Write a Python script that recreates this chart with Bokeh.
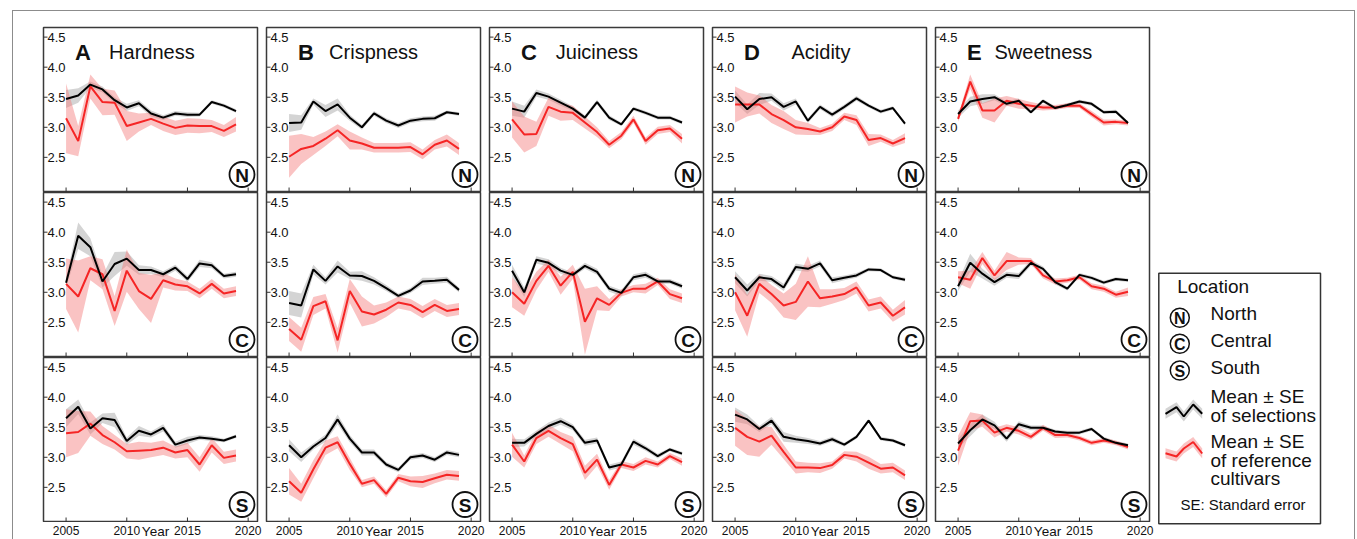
import numpy as np
from bokeh.plotting import figure
from bokeh.layouts import gridplot, row, column
from bokeh.models import Range1d, ColumnDataSource
from bokeh.core.properties import value
from bokeh.embed import file_html
from bokeh.resources import INLINE

# ---------------- data ----------------
years = list(range(2005, 2020))
x_ticks = [2005, 2010, 2015, 2020]
x_tick_labels = ["2005", "2010", "2015", "2020"]
y_ticks = [2.5, 3.0, 3.5, 4.0, 4.5]
y_tick_labels = ["2.5", "3.0", "3.5", "4.0", "4.5"]
panel_letters = ["A", "B", "C", "D", "E"]
traits = ["Hardness", "Crispness", "Juiciness", "Acidity", "Sweetness"]
locations = ["N", "C", "S"]
location_names = ["North", "Central", "South"]

# Hardness
hard_N_sel = [3.47, 3.53, 3.71, 3.63, 3.45, 3.33, 3.40, 3.23, 3.16, 3.23, 3.21, 3.21, 3.42, 3.36, 3.27]
hard_N_sel_se = [0.15, 0.12, 0.05, 0.05, 0.05, 0.06, 0.05, 0.05, 0.04, 0.04, 0.04, 0.03, 0.03, 0.03, 0.03]
hard_N_ref = [3.15, 2.77, 3.68, 3.42, 3.41, 3.02, 3.08, 3.14, 3.06, 2.99, 3.03, 3.02, 3.02, 2.94, 3.05]
hard_N_ref_se = [0.58, 0.25, 0.20, 0.22, 0.20, 0.25, 0.15, 0.10, 0.12, 0.12, 0.12, 0.12, 0.10, 0.10, 0.12]
hard_C_sel = [3.16, 3.94, 3.75, 3.18, 3.47, 3.56, 3.37, 3.37, 3.30, 3.41, 3.22, 3.48, 3.45, 3.27, 3.30]
hard_C_sel_se = [0.08, 0.22, 0.15, 0.10, 0.20, 0.12, 0.08, 0.06, 0.05, 0.05, 0.05, 0.06, 0.05, 0.04, 0.04]
hard_C_ref = [3.14, 2.93, 3.40, 3.30, 2.69, 3.36, 3.02, 2.89, 3.20, 3.13, 3.10, 2.98, 3.14, 2.98, 3.02]
hard_C_ref_se = [0.42, 0.60, 0.20, 0.25, 0.25, 0.35, 0.30, 0.40, 0.12, 0.10, 0.08, 0.08, 0.08, 0.08, 0.08]
hard_S_sel = [3.65, 3.84, 3.48, 3.65, 3.62, 3.27, 3.44, 3.38, 3.49, 3.21, 3.28, 3.33, 3.31, 3.28, 3.35]
hard_S_sel_se = [0.15, 0.12, 0.10, 0.08, 0.12, 0.06, 0.08, 0.05, 0.06, 0.05, 0.06, 0.04, 0.04, 0.03, 0.03]
hard_S_ref = [3.40, 3.42, 3.56, 3.37, 3.25, 3.10, 3.11, 3.12, 3.16, 3.08, 3.12, 2.88, 3.20, 2.99, 3.03]
hard_S_ref_se = [0.40, 0.35, 0.20, 0.15, 0.12, 0.12, 0.15, 0.12, 0.12, 0.10, 0.12, 0.12, 0.12, 0.10, 0.10]

# Crispness
crisp_N_sel = [3.07, 3.08, 3.43, 3.27, 3.38, 3.16, 3.00, 3.23, 3.11, 3.03, 3.11, 3.14, 3.15, 3.25, 3.22]
crisp_N_sel_se = [0.15, 0.12, 0.05, 0.10, 0.10, 0.05, 0.04, 0.04, 0.04, 0.04, 0.04, 0.04, 0.04, 0.03, 0.03]
crisp_N_ref = [2.51, 2.64, 2.69, 2.81, 2.95, 2.78, 2.73, 2.66, 2.66, 2.66, 2.67, 2.55, 2.71, 2.78, 2.64]
crisp_N_ref_se = [0.35, 0.25, 0.15, 0.12, 0.10, 0.15, 0.10, 0.08, 0.08, 0.08, 0.08, 0.08, 0.08, 0.10, 0.10]
crisp_C_sel = [2.82, 2.78, 3.38, 3.19, 3.43, 3.28, 3.27, 3.19, 3.07, 2.94, 3.03, 3.18, 3.19, 3.21, 3.04]
crisp_C_sel_se = [0.20, 0.20, 0.08, 0.06, 0.10, 0.06, 0.08, 0.06, 0.05, 0.04, 0.04, 0.06, 0.05, 0.05, 0.04]
crisp_C_ref = [2.39, 2.21, 2.77, 2.85, 2.20, 3.02, 2.68, 2.63, 2.71, 2.83, 2.79, 2.67, 2.79, 2.69, 2.72]
crisp_C_ref_se = [0.20, 0.20, 0.15, 0.12, 0.20, 0.20, 0.25, 0.15, 0.12, 0.10, 0.10, 0.10, 0.10, 0.10, 0.10]
crisp_S_sel = [3.20, 3.00, 3.18, 3.32, 3.63, 3.31, 3.08, 3.08, 2.88, 2.79, 3.00, 3.03, 2.96, 3.08, 3.04]
crisp_S_sel_se = [0.10, 0.08, 0.05, 0.06, 0.08, 0.06, 0.05, 0.05, 0.04, 0.04, 0.04, 0.04, 0.04, 0.04, 0.04]
crisp_S_ref = [2.60, 2.41, 2.80, 3.16, 3.25, 2.89, 2.56, 2.62, 2.39, 2.66, 2.60, 2.59, 2.65, 2.71, 2.69]
crisp_S_ref_se = [0.22, 0.15, 0.15, 0.12, 0.10, 0.10, 0.06, 0.06, 0.06, 0.06, 0.08, 0.10, 0.08, 0.08, 0.08]

# Juiciness
juicy_N_sel = [3.31, 3.26, 3.57, 3.51, 3.41, 3.31, 3.16, 3.42, 3.16, 3.05, 3.31, 3.24, 3.16, 3.16, 3.08]
juicy_N_sel_se = [0.12, 0.10, 0.06, 0.05, 0.05, 0.04, 0.04, 0.04, 0.04, 0.03, 0.03, 0.03, 0.03, 0.03, 0.03]
juicy_N_ref = [3.13, 2.88, 2.89, 3.34, 3.26, 3.24, 3.08, 2.92, 2.71, 2.86, 3.13, 2.77, 2.95, 2.98, 2.81]
juicy_N_ref_se = [0.30, 0.30, 0.20, 0.15, 0.15, 0.12, 0.10, 0.08, 0.06, 0.06, 0.06, 0.06, 0.06, 0.06, 0.08]
juicy_C_sel = [3.36, 3.00, 3.54, 3.49, 3.36, 3.29, 3.44, 3.34, 3.06, 2.99, 3.25, 3.29, 3.18, 3.18, 3.10]
juicy_C_sel_se = [0.10, 0.08, 0.06, 0.06, 0.05, 0.04, 0.05, 0.05, 0.05, 0.05, 0.05, 0.05, 0.04, 0.04, 0.04]
juicy_C_ref = [3.00, 2.81, 3.19, 3.44, 3.11, 3.34, 2.51, 2.90, 2.79, 2.99, 3.06, 3.06, 3.18, 2.97, 2.90]
juicy_C_ref_se = [0.25, 0.20, 0.15, 0.10, 0.15, 0.12, 0.55, 0.20, 0.10, 0.06, 0.06, 0.08, 0.06, 0.08, 0.08]
juicy_S_sel = [3.24, 3.24, 3.39, 3.52, 3.60, 3.50, 3.24, 3.28, 2.83, 2.88, 3.26, 3.15, 3.02, 3.13, 3.06]
juicy_S_sel_se = [0.07, 0.06, 0.05, 0.06, 0.06, 0.05, 0.05, 0.05, 0.05, 0.05, 0.05, 0.04, 0.04, 0.03, 0.03]
juicy_S_ref = [3.21, 2.93, 3.32, 3.44, 3.32, 3.22, 2.74, 2.96, 2.54, 2.88, 2.83, 2.94, 2.88, 3.02, 2.92]
juicy_S_ref_se = [0.20, 0.10, 0.10, 0.10, 0.10, 0.12, 0.12, 0.10, 0.08, 0.06, 0.06, 0.06, 0.05, 0.05, 0.06]

# Acidity
acid_N_sel = [3.51, 3.30, 3.47, 3.50, 3.34, 3.43, 3.11, 3.34, 3.21, 3.34, 3.48, 3.36, 3.26, 3.32, 3.06]
acid_N_sel_se = [0.10, 0.08, 0.10, 0.06, 0.06, 0.05, 0.04, 0.04, 0.04, 0.04, 0.04, 0.03, 0.03, 0.03, 0.03]
acid_N_ref = [3.38, 3.38, 3.38, 3.22, 3.12, 3.00, 2.97, 2.93, 3.00, 3.18, 3.12, 2.79, 2.82, 2.73, 2.82]
acid_N_ref_se = [0.30, 0.20, 0.15, 0.15, 0.15, 0.12, 0.10, 0.06, 0.06, 0.06, 0.08, 0.10, 0.06, 0.06, 0.08]
acid_C_sel = [3.25, 3.03, 3.25, 3.22, 3.08, 3.42, 3.39, 3.48, 3.20, 3.24, 3.28, 3.38, 3.37, 3.25, 3.21]
acid_C_sel_se = [0.10, 0.10, 0.06, 0.05, 0.06, 0.06, 0.05, 0.05, 0.05, 0.04, 0.04, 0.03, 0.03, 0.03, 0.03]
acid_C_ref = [3.00, 2.61, 3.14, 2.97, 2.78, 2.84, 3.18, 2.90, 2.93, 2.97, 3.08, 2.78, 2.83, 2.61, 2.75]
acid_C_ref_se = [0.30, 0.35, 0.15, 0.15, 0.20, 0.30, 0.42, 0.15, 0.12, 0.10, 0.10, 0.10, 0.10, 0.10, 0.12]
acid_S_sel = [3.71, 3.63, 3.47, 3.61, 3.34, 3.30, 3.27, 3.23, 3.30, 3.21, 3.34, 3.61, 3.31, 3.28, 3.20]
acid_S_sel_se = [0.12, 0.08, 0.05, 0.06, 0.08, 0.06, 0.05, 0.04, 0.04, 0.03, 0.03, 0.03, 0.03, 0.03, 0.03]
acid_S_ref = [3.49, 3.34, 3.26, 3.36, 3.09, 2.83, 2.83, 2.82, 2.87, 3.04, 3.01, 2.91, 2.81, 2.83, 2.70]
acid_S_ref_se = [0.30, 0.30, 0.25, 0.15, 0.12, 0.10, 0.08, 0.08, 0.06, 0.06, 0.08, 0.10, 0.08, 0.08, 0.08]

# Sweetness
sweet_N_sel = [3.22, 3.43, 3.47, 3.50, 3.39, 3.44, 3.25, 3.44, 3.32, 3.37, 3.43, 3.39, 3.25, 3.26, 3.07]
sweet_N_sel_se = [0.06, 0.08, 0.08, 0.05, 0.04, 0.04, 0.03, 0.03, 0.03, 0.03, 0.03, 0.03, 0.03, 0.03, 0.03]
sweet_N_ref = [3.14, 3.76, 3.28, 3.28, 3.44, 3.39, 3.36, 3.33, 3.33, 3.36, 3.36, 3.22, 3.08, 3.09, 3.07]
sweet_N_ref_se = [0.05, 0.12, 0.12, 0.20, 0.08, 0.08, 0.06, 0.05, 0.04, 0.04, 0.04, 0.05, 0.05, 0.04, 0.04]
sweet_C_sel = [3.10, 3.49, 3.31, 3.17, 3.29, 3.27, 3.49, 3.39, 3.17, 3.06, 3.29, 3.24, 3.16, 3.22, 3.20]
sweet_C_sel_se = [0.08, 0.15, 0.08, 0.06, 0.05, 0.05, 0.05, 0.04, 0.04, 0.03, 0.03, 0.03, 0.03, 0.03, 0.03]
sweet_C_ref = [3.25, 3.21, 3.57, 3.28, 3.52, 3.52, 3.52, 3.28, 3.18, 3.20, 3.25, 3.10, 3.06, 2.96, 3.01]
sweet_C_ref_se = [0.10, 0.15, 0.10, 0.08, 0.15, 0.06, 0.05, 0.05, 0.05, 0.04, 0.04, 0.05, 0.05, 0.05, 0.07]
sweet_S_sel = [3.23, 3.45, 3.63, 3.53, 3.31, 3.55, 3.49, 3.49, 3.43, 3.41, 3.41, 3.47, 3.31, 3.24, 3.20]
sweet_S_sel_se = [0.08, 0.10, 0.08, 0.06, 0.05, 0.05, 0.04, 0.04, 0.03, 0.03, 0.03, 0.03, 0.03, 0.03, 0.03]
sweet_S_ref = [3.11, 3.60, 3.61, 3.41, 3.49, 3.44, 3.34, 3.49, 3.37, 3.37, 3.32, 3.24, 3.28, 3.24, 3.17]
sweet_S_ref_se = [0.25, 0.15, 0.10, 0.08, 0.06, 0.06, 0.05, 0.05, 0.05, 0.04, 0.04, 0.04, 0.04, 0.04, 0.04]

panel_data = {
    ("Hardness", "N"): (hard_N_sel, hard_N_sel_se, hard_N_ref, hard_N_ref_se),
    ("Hardness", "C"): (hard_C_sel, hard_C_sel_se, hard_C_ref, hard_C_ref_se),
    ("Hardness", "S"): (hard_S_sel, hard_S_sel_se, hard_S_ref, hard_S_ref_se),
    ("Crispness", "N"): (crisp_N_sel, crisp_N_sel_se, crisp_N_ref, crisp_N_ref_se),
    ("Crispness", "C"): (crisp_C_sel, crisp_C_sel_se, crisp_C_ref, crisp_C_ref_se),
    ("Crispness", "S"): (crisp_S_sel, crisp_S_sel_se, crisp_S_ref, crisp_S_ref_se),
    ("Juiciness", "N"): (juicy_N_sel, juicy_N_sel_se, juicy_N_ref, juicy_N_ref_se),
    ("Juiciness", "C"): (juicy_C_sel, juicy_C_sel_se, juicy_C_ref, juicy_C_ref_se),
    ("Juiciness", "S"): (juicy_S_sel, juicy_S_sel_se, juicy_S_ref, juicy_S_ref_se),
    ("Acidity", "N"): (acid_N_sel, acid_N_sel_se, acid_N_ref, acid_N_ref_se),
    ("Acidity", "C"): (acid_C_sel, acid_C_sel_se, acid_C_ref, acid_C_ref_se),
    ("Acidity", "S"): (acid_S_sel, acid_S_sel_se, acid_S_ref, acid_S_ref_se),
    ("Sweetness", "N"): (sweet_N_sel, sweet_N_sel_se, sweet_N_ref, sweet_N_ref_se),
    ("Sweetness", "C"): (sweet_C_sel, sweet_C_sel_se, sweet_C_ref, sweet_C_ref_se),
    ("Sweetness", "S"): (sweet_S_sel, sweet_S_sel_se, sweet_S_ref, sweet_S_ref_se),
}

# ---------------- styling ----------------
FONT = "Liberation Sans"
FONTV = value(FONT)
X0, X1 = 2003.14, 2020.77
Y0, Y1 = 1.915, 4.66
FW, FH = 214, 165
KX = FW / (X1 - X0)
KY = FH / (Y1 - Y0)
STRIP_H = 17
SEL_LINE = "#000000"
SEL_BAND = "#b0b0b0"
REF_LINE = "#f52525"
REF_BAND = "#f47a7a"
TICK_COLOR = "#333333"
TEXT_COLOR = "#111111"
name_offsets = [65.6, 62.6, 66.3, 79.0, 59.0]


def borders(ci):
    return (30 if ci == 0 else 4), 5


def make_panel(ci, ri):
    trait = traits[ci]
    loc = locations[ri]
    sel, sel_se, ref, ref_se = [np.array(a) for a in panel_data[(trait, loc)]]
    bl, br = borders(ci)
    p = figure(frame_width=FW, frame_height=FH,
               x_range=Range1d(X0, X1), y_range=Range1d(Y0, Y1),
               min_border_left=bl, min_border_right=br,
               min_border_top=16 if ri == 0 else 0, min_border_bottom=0,
               x_axis_location=None, y_axis_location=None,
               output_backend="svg", toolbar_location=None, tools="")
    p.grid.visible = False
    p.background_fill_color = "white"
    p.border_fill_color = "white"
    p.outline_line_color = "#3a3a3a"
    p.outline_line_width = 1.5

    src = ColumnDataSource(dict(x=years, sel=sel, sel_lo=sel - sel_se, sel_hi=sel + sel_se,
                                ref=ref, ref_lo=ref - ref_se, ref_hi=ref + ref_se))
    p.varea(x="x", y1="sel_lo", y2="sel_hi", source=src, fill_color=SEL_BAND, fill_alpha=0.55)
    p.varea(x="x", y1="ref_lo", y2="ref_hi", source=src, fill_color=REF_BAND, fill_alpha=0.45)
    p.line(x="x", y="ref", source=src, line_color=REF_LINE, line_width=2)
    p.line(x="x", y="sel", source=src, line_color=SEL_LINE, line_width=2)

    # inward tick marks (half of each dash is clipped by the frame)
    p.scatter(x=[X0] * len(y_ticks), y=y_ticks, marker="dash", size=8,
              line_color=TICK_COLOR, line_width=1)
    p.scatter(x=x_ticks, y=[Y0] * len(x_ticks), marker="dash", angle=np.pi / 2, size=10,
              line_color=TICK_COLOR, line_width=1)

    # y tick labels inside the frame
    p.text(x=[X0] * len(y_ticks), y=y_ticks, text=y_tick_labels, x_offset=4,
           text_baseline="middle", text_align="left", text_font=FONTV,
           text_font_size="13px", text_color=TEXT_COLOR)

    # location badge
    bx = X1 - 15.5 / KX
    by = Y0 + 18 / KY
    p.scatter(x=[bx], y=[by], marker="circle", size=25, fill_color="white",
              line_color=TEXT_COLOR, line_width=1.8)
    p.text(x=[bx], y=[by], text=[loc], text_align="center", text_baseline="middle",
           text_font=FONTV, text_font_style="bold", text_font_size="19px",
           text_color=TEXT_COLOR, y_offset=1)

    if ri == 0:
        ty = Y1 - 24.5 / KY
        p.text(x=[X0 + 31.5 / KX], y=[ty], text=[panel_letters[ci]], text_font=FONTV,
               text_font_style="bold", text_font_size="22px", text_color=TEXT_COLOR,
               text_baseline="alphabetic")
        p.text(x=[X0 + name_offsets[ci] / KX], y=[ty], text=[trait], text_font=FONTV,
               text_font_size="20px", text_color=TEXT_COLOR, text_baseline="alphabetic")
    return p


def make_strip(ci):
    # strip under the bottom row carrying the year tick labels, same x scale as the panel
    bl, br = borders(ci)
    s = figure(width=bl + FW + br, height=STRIP_H,
               x_range=Range1d(X0 - bl / KX, X1 + br / KX), y_range=Range1d(STRIP_H, 0),
               min_border=0, x_axis_location=None, y_axis_location=None,
               output_backend="svg", toolbar_location=None, tools="")
    s.grid.visible = False
    s.outline_line_color = None
    s.background_fill_color = "white"
    s.border_fill_color = "white"
    s.text(x=x_ticks, y=[3] * len(x_ticks), text=x_tick_labels, text_align="center",
           text_baseline="top", text_font=FONTV, text_font_size="12px", text_color=TEXT_COLOR)
    s.text(x=[X0 + 112 / KX], y=[1.5], text=["Year"], text_align="center",
           text_baseline="top", text_font=FONTV, text_font_size="13.5px", text_color=TEXT_COLOR)
    return s


grid = gridplot([[make_panel(ci, ri) for ci in range(5)] for ri in range(3)],
                toolbar_location=None)
strips = row([make_strip(ci) for ci in range(5)])
left_block = column(grid, strips)

# ---------------- legend ----------------
LW, LH = 200, 528
leg = figure(width=LW, height=LH, x_range=Range1d(0, LW), y_range=Range1d(LH, 0),
             min_border=0, x_axis_location=None, y_axis_location=None,
             output_backend="svg", toolbar_location=None, tools="")
leg.grid.visible = False
leg.outline_line_color = None
leg.background_fill_color = "white"
leg.border_fill_color = "white"

leg.quad(left=[4.3], right=[166], top=[261.7], bottom=[512.3], fill_color=None,
         line_color="#333333", line_width=1.5)
leg.text(x=[22.7], y=[285], text=["Location"], text_font=FONTV, text_font_size="19px",
         text_color=TEXT_COLOR)
badge_y = [306.3, 332.3, 359.0]
leg.scatter(x=[25.3] * 3, y=badge_y, marker="circle", size=19, fill_color="white",
            line_color=TEXT_COLOR, line_width=1.5)
leg.text(x=[25.3] * 3, y=badge_y, text=locations, text_align="center", text_baseline="middle",
         text_font=FONTV, text_font_style="bold", text_font_size="16px", text_color=TEXT_COLOR,
         y_offset=1)
leg.text(x=[56] * 3, y=[312.3, 339.7, 366.3], text=location_names, text_font=FONTV,
         text_font_size="19px", text_color=TEXT_COLOR)

swatch_x = [11, 22, 29.3, 38.7, 47.7]
sel_swatch_y = np.array([402.3, 395.7, 405.0, 393.0, 402.3])
ref_swatch_y = np.array([441.7, 445.0, 437.0, 430.5, 442.0])
leg.varea(x=swatch_x, y1=sel_swatch_y - 5, y2=sel_swatch_y + 5, fill_color=SEL_BAND, fill_alpha=0.55)
leg.line(x=swatch_x, y=sel_swatch_y, line_color=SEL_LINE, line_width=2)
leg.varea(x=swatch_x, y1=ref_swatch_y - 5, y2=ref_swatch_y + 5, fill_color=REF_BAND, fill_alpha=0.45)
leg.line(x=swatch_x, y=ref_swatch_y, line_color=REF_LINE, line_width=2)
leg.text(x=[56] * 5, y=[395.7, 414.0, 440.7, 459.0, 477.3],
         text=["Mean \u00b1 SE", "of selections", "Mean \u00b1 SE", "of reference", "cultivars"],
         text_font=FONTV, text_font_size="19px", text_color=TEXT_COLOR)
leg.text(x=[26], y=[501], text=["SE: Standard error"], text_font=FONTV, text_font_size="15px",
         text_color=TEXT_COLOR)

layout = row(left_block, leg, margin=(10, 0, 0, 12),
             styles={"border-top": "1px solid #8c8c8c", "border-left": "1px solid #8c8c8c",
                     "border-right": "1px solid #8c8c8c"})

open("out.html", "w").write(file_html(layout, INLINE))
